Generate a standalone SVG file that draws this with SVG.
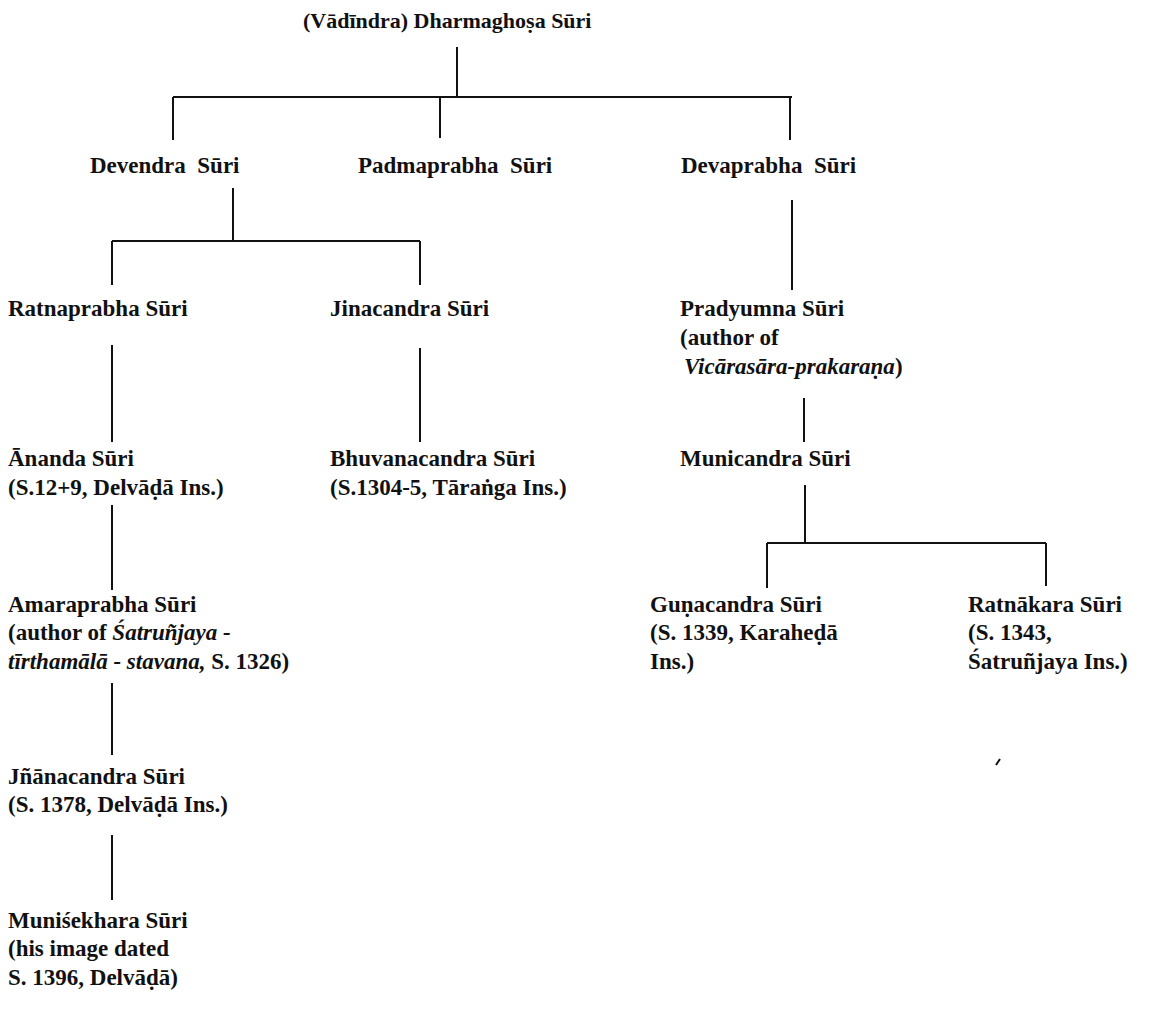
<svg xmlns="http://www.w3.org/2000/svg" width="1176" height="1026" viewBox="0 0 1176 1026">
<style>
text{font-family:"Liberation Serif","Times New Roman",serif;font-size:23px;font-weight:bold;fill:#111;white-space:pre}
.it{font-style:italic}
.title{font-size:22px}
.ln{stroke:#111;stroke-width:2;fill:none}
</style>
<rect width="1176" height="1026" fill="#fff"/>
<g id="connectors" class="ln">
<path d="M457 47V97M173 97H792M173 97V140M440 97V138M790 97V140"/>
<path d="M233 188V241M112 241H420M112 241V285M420 241V285"/>
<path d="M792 200V290"/>
<path d="M112 345V442M420 348V442"/>
<path d="M804 398V442"/>
<path d="M805 485V543M767 543H1046M767 543V588M1046 543V586"/>
<path d="M112 505V590M112 683V755M112 835V900"/>
<path d="M996 765L1000 759"/>
</g>
<g id="n-dharmaghosa"><text class="title" x="303" y="28">(Vādīndra) Dharmaghoṣa Sūri</text></g>
<g id="n-devendra"><text x="90" y="173">Devendra  Sūri</text></g>
<g id="n-padmaprabha"><text x="358" y="173">Padmaprabha  Sūri</text></g>
<g id="n-devaprabha"><text x="681" y="173">Devaprabha  Sūri</text></g>
<g id="n-ratnaprabha"><text x="8" y="316">Ratnaprabha Sūri</text></g>
<g id="n-jinacandra"><text x="330" y="316">Jinacandra Sūri</text></g>
<g id="n-pradyumna">
<text x="680" y="316">Pradyumna Sūri</text>
<text x="680" y="345">(author of</text>
<text x="684" y="374"><tspan class="it">Vicārasāra-prakaraṇa</tspan>)</text>
</g>
<g id="n-ananda">
<text x="8" y="466">Ānanda Sūri</text>
<text x="8" y="495">(S.12+9, Delvāḍā Ins.)</text>
</g>
<g id="n-bhuvanacandra">
<text x="330" y="466">Bhuvanacandra Sūri</text>
<text x="330" y="495">(S.1304-5, Tāraṅga Ins.)</text>
</g>
<g id="n-municandra"><text x="680" y="466">Municandra Sūri</text></g>
<g id="n-amaraprabha">
<text x="8" y="612">Amaraprabha Sūri</text>
<text x="8" y="640">(author of <tspan class="it">Śatruñjaya -</tspan></text>
<text x="8" y="669"><tspan class="it">tīrthamālā - stavana,</tspan> S. 1326)</text>
</g>
<g id="n-gunacandra">
<text x="650" y="612">Guṇacandra Sūri</text>
<text x="650" y="640">(S. 1339, Karaheḍā</text>
<text x="650" y="669">Ins.)</text>
</g>
<g id="n-ratnakara">
<text x="968" y="612">Ratnākara Sūri</text>
<text x="968" y="640">(S. 1343,</text>
<text x="968" y="669">Śatruñjaya Ins.)</text>
</g>
<g id="n-jnanacandra">
<text x="8" y="784">Jñānacandra Sūri</text>
<text x="8" y="812">(S. 1378, Delvāḍā Ins.)</text>
</g>
<g id="n-munisekhara">
<text x="8" y="928">Muniśekhara Sūri</text>
<text x="8" y="956">(his image dated</text>
<text x="8" y="985">S. 1396, Delvāḍā)</text>
</g>
</svg>
